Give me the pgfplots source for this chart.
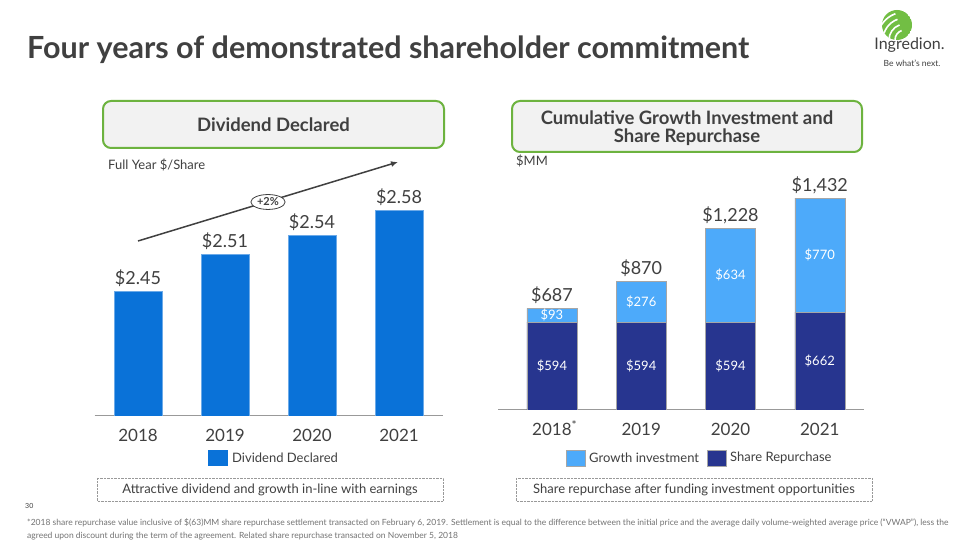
\documentclass[border=0pt]{standalone}
\usepackage{fontspec}
\setmainfont{Lato}
\usepackage{pgfplots}
\pgfplotsset{compat=1.18}
\usetikzlibrary{shapes.geometric,arrows.meta}
\definecolor{divblue}{HTML}{0A72D8}
\definecolor{navy}{HTML}{27358F}
\definecolor{lblue}{HTML}{4DAAFA}
\definecolor{grn}{HTML}{6DB33F}
\definecolor{logogrn}{HTML}{72BE44}
\definecolor{boxgray}{HTML}{F2F2F2}
\definecolor{txt}{HTML}{404040}
\newcommand{\fs}[1]{\fontsize{#1}{#1}\selectfont}
\begin{document}
\begin{tikzpicture}[x=1pt,y=1pt]
\path[use as bounding box] (0,0) rectangle (960,540);
\fill[white] (0,0) rectangle (960,540);
% title
\node[anchor=west, font=\fs{30.5}\bfseries, text=txt, inner sep=0] at (27,490) {Four years of demonstrated shareholder commitment};
% logo
\begin{scope}
\clip (897,515) circle (15);
\fill[logogrn] (897,515) circle (15);
\foreach \r in {10,16,22,28}{\draw[white, line width=1.6] (905-\r,500) arc (180:110:\r);}
\end{scope}
\node[font=\fs{16}, text=txt, inner sep=0] at (909.5,495) {Ingredion.};
\node[font=\fs{8.5}, text=txt, inner sep=0] at (912,477) {Be what's next.};
% header boxes
\draw[grn, line width=2, fill=boxgray, rounded corners=8] (103,439) rectangle (444,392);
\node[font=\fs{18.5}\bfseries, text=txt] at (273.5,415.5) {Dividend Declared};
\draw[grn, line width=2, fill=boxgray, rounded corners=8] (512,439) rectangle (862,388);
\node[font=\fs{18.5}\bfseries, text=txt, align=center, text depth=0pt] at (687,413.5) {\fontsize{18.5}{21}\selectfont Cumulative Growth Investment and\\Share Repurchase};
\node[anchor=west, font=\fs{13}, text=txt, inner sep=0] at (108,375) {Full Year \$/Share};
\node[anchor=west, font=\fs{13}, text=txt, inner sep=0] at (516,379) {\$MM};
% left chart
\begin{axis}[at={(94.5pt,124pt)}, anchor=south west, scale only axis,
  width=348pt, height=218pt, xmin=-0.5, xmax=3.5, ymin=2.25, ymax=2.60,
  axis x line=bottom, axis y line=none, x axis line style={-, draw=gray!80, line width=1pt},
  major tick length=0pt, ytick=\empty,
  xtick={0,1,2,3}, xticklabels={2018,2019,2020,2021},
  xticklabel style={font=\fs{17}, text=txt, yshift=-10pt}]
\addplot[ybar, bar width=48pt, bar shift=0pt, fill=divblue, draw=divblue!60,
  point meta=explicit symbolic, nodes near coords,
  every node near coord/.style={font=\fs{18}, text=txt, anchor=south, yshift=1pt}]
  coordinates {(0,2.45)[\$2.45] (1,2.51)[\$2.51] (2,2.54)[\$2.54] (3,2.58)[\$2.58]};
\end{axis}
\draw[-{Latex[length=7pt,width=6pt]}, line width=1.5, txt] (138,299) -- (398,378);
\node[ellipse, draw=txt, fill=white, line width=0.8, inner sep=1.2pt, font=\fs{11}\bfseries, text=txt] at (268,338) {+2\%};
% right chart
\begin{axis}[at={(498.4pt,130pt)}, anchor=south west, scale only axis,
  width=366pt, height=222pt, xmin=-0.6, xmax=3.5, ymin=0, ymax=1500,
  ybar stacked, bar width=50pt,
  axis x line=bottom, axis y line=none, x axis line style={-, draw=gray!80, line width=1pt},
  major tick length=0pt, ytick=\empty,
  xtick={0,1,2,3}, xticklabels={2018\rlap{\smash{\textsuperscript{*}}},2019,2020,2021},
  xticklabel style={font=\fs{17}, text=txt, yshift=-10pt}]
\addplot[fill=navy, draw=gray!70] coordinates {(0,594) (1,594) (2,594) (3,662)};
\addplot[fill=lblue, draw=gray!70] coordinates {(0,93) (1,276) (2,634) (3,770)};
\end{axis}
\begin{axis}[at={(498.4pt,130pt)}, anchor=south west, scale only axis,
  width=366pt, height=222pt, xmin=-0.6, xmax=3.5, ymin=0, ymax=1500, hide axis, clip=false]
\addplot[draw=none, point meta=explicit symbolic, nodes near coords,
  every node near coord/.style={font=\fs{13}, text=white, anchor=center}]
  coordinates {(0,297)[\$594] (1,297)[\$594] (2,297)[\$594] (3,331)[\$662]
  (0,640.5)[\$93] (1,732)[\$276] (2,911)[\$634] (3,1047)[\$770]};
\addplot[draw=none, point meta=explicit symbolic, nodes near coords,
  every node near coord/.style={font=\fs{18}, text=txt, anchor=south, yshift=1pt}]
  coordinates {(0,687)[\$687] (1,870)[\$870] (2,1228)[\$1,228] (3,1432)[\$1,432]};
\end{axis}
% legends
\fill[divblue] (208,74) rectangle (228,90);
\node[anchor=west, font=\fs{13}, text=txt, inner sep=0] at (232,82) {Dividend Declared};
\filldraw[fill=lblue, draw=gray!70] (566,74) rectangle (585,90);
\node[anchor=west, font=\fs{13}, text=txt, inner sep=0] at (589,82) {Growth investment};
\filldraw[fill=navy, draw=gray!70] (707,74) rectangle (726,90);
\node[anchor=west, font=\fs{13}, text=txt, inner sep=0] at (730,82) {Share Repurchase};
% dotted boxes
\draw[gray!80, densely dotted] (97,62) rectangle (443,39);
\node[font=\fs{13}, text=txt] at (270,50.5) {Attractive dividend and growth in-line with earnings};
\draw[gray!80, densely dotted] (516,62) rectangle (872,39);
\node[font=\fs{13}, text=txt] at (694,50.5) {Share repurchase after funding investment opportunities};
% page number and footnote
\node[anchor=west, font=\fs{7}, text=txt, inner sep=0] at (25,34) {30};
\node[anchor=west, font=\fs{8.5}, text=gray!90!black, inner sep=0] at (27,17) {*2018 share repurchase value inclusive of \$(63)MM share repurchase settlement transacted on February 6, 2019. Settlement is equal to the difference between the initial price and the average daily volume-weighted average price (``VWAP''), less the};
\node[anchor=west, font=\fs{8.5}, text=gray!90!black, inner sep=0] at (27,4) {agreed upon discount during the term of the agreement. Related share repurchase transacted on November 5, 2018};
\end{tikzpicture}
\end{document}
